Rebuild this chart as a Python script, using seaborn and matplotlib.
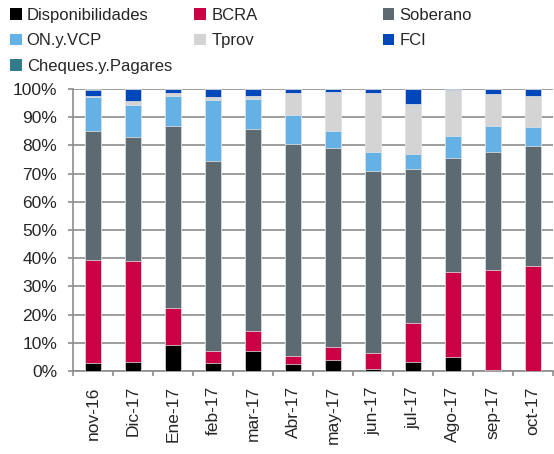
import matplotlib
matplotlib.use('Agg')

import numpy as np
import pandas as pd
import matplotlib.pyplot as plt
import seaborn as sns
from matplotlib.patches import Patch

# Data (percent of portfolio)
months = ['nov-16', 'Dic-17', 'Ene-17', 'feb-17', 'mar-17', 'Abr-17',
          'may-17', 'jun-17', 'jul-17', 'Ago-17', 'sep-17', 'oct-17']
disponibilidades = [2.9, 3.2, 9.3, 2.7, 7.2, 2.6, 3.9, 0.7, 3.3, 5.1, 0.4, 0.0]
bcra = [36.5, 35.9, 12.9, 4.5, 7.1, 2.8, 4.6, 5.8, 13.6, 30.0, 35.4, 37.3]
soberano = [45.8, 44.0, 64.7, 67.3, 71.4, 75.1, 70.7, 64.5, 54.7, 40.5, 42.0, 42.6]
on_vcp = [11.8, 11.3, 10.7, 21.6, 10.9, 10.2, 6.0, 6.7, 5.5, 7.7, 9.2, 6.6]
tprov = [0.6, 1.3, 1.1, 1.2, 0.9, 7.8, 13.8, 20.8, 17.5, 16.3, 11.1, 11.1]
fci = [2.0, 4.3, 1.3, 2.7, 2.5, 1.5, 1.0, 1.5, 5.4, 0.4, 1.9, 2.4]
cheques = [0.4, 0.0, 0.0, 0.0, 0.0, 0.0, 0.0, 0.0, 0.0, 0.0, 0.0, 0.0]

series = ['Disponibilidades', 'BCRA', 'Soberano', 'ON.y.VCP', 'Tprov', 'FCI',
          'Cheques.y.Pagares']
colors = ['#000000', '#CC0044', '#5E6A71', '#63B1E5', '#D4D4D4', '#0047BB',
          '#317B8C']

df = pd.DataFrame(dict(zip(series, [disponibilidades, bcra, soberano, on_vcp,
                                    tprov, fci, cheques])), index=months)
cum = df.cumsum(axis=1)
cum = cum.div(cum.iloc[:, -1], axis=0) * 100

sns.set_style('white')
plt.rcParams['font.family'] = ['Liberation Sans', 'DejaVu Sans']

fig = plt.figure(figsize=(5.54, 4.54), dpi=100)
ax = fig.add_axes([0.132, 0.183, 0.866, 0.621])

# stacked bars: draw cumulative totals from the top down
for name, col in reversed(list(zip(series, colors))):
    sns.barplot(x=months, y=cum[name].values, color=col, saturation=1,
                width=0.4, edgecolor='#E8E8E8', linewidth=0.5, ax=ax, zorder=3)

grey = '#8C8C8C'
ax.set_ylim(0, 100)
ax.set_xlim(-0.5, 11.5)
ax.set_yticks(np.arange(0, 101, 10))
ax.set_yticklabels([f'{v}%' for v in range(0, 101, 10)], fontsize=12.5)
ax.yaxis.grid(True, color=grey, linewidth=1.2, zorder=0)
ax.set_axisbelow(True)

ax.set_xticks(range(len(months)))
ax.set_xticklabels(months, rotation=90, fontsize=12.5)
ax.set_xticks(np.arange(-0.5, 12, 1), minor=True)
ax.tick_params(axis='x', which='major', length=0, pad=11)
ax.tick_params(axis='x', which='minor', length=3.6, color=grey, width=1.2,
               direction='out', bottom=True)
ax.tick_params(axis='y', length=3.6, color=grey, width=1.2,
               direction='out', left=True, pad=8)

for s in ['top', 'right']:
    ax.spines[s].set_visible(False)
for s in ['left', 'bottom']:
    ax.spines[s].set_color(grey)
    ax.spines[s].set_linewidth(1.2)

ax.set_xlabel('')
ax.set_ylabel('')

# legend laid out in three columns like the original
handles = {n: Patch(facecolor=c, edgecolor='none') for n, c in zip(series, colors)}
columns = [(['Disponibilidades', 'ON.y.VCP', 'Cheques.y.Pagares'], 0.012),
           (['BCRA', 'Tprov'], 0.345),
           (['Soberano', 'FCI'], 0.685)]
for names, xpos in columns:
    fig.legend([handles[n] for n in names], names, loc='upper left',
               bbox_to_anchor=(xpos, 0.99), frameon=False, fontsize=12,
               handlelength=0.7, handleheight=0.7, handletextpad=0.3,
               labelspacing=0.62, borderaxespad=0.1, borderpad=0.1)

fig.savefig('out.png', dpi=100)
